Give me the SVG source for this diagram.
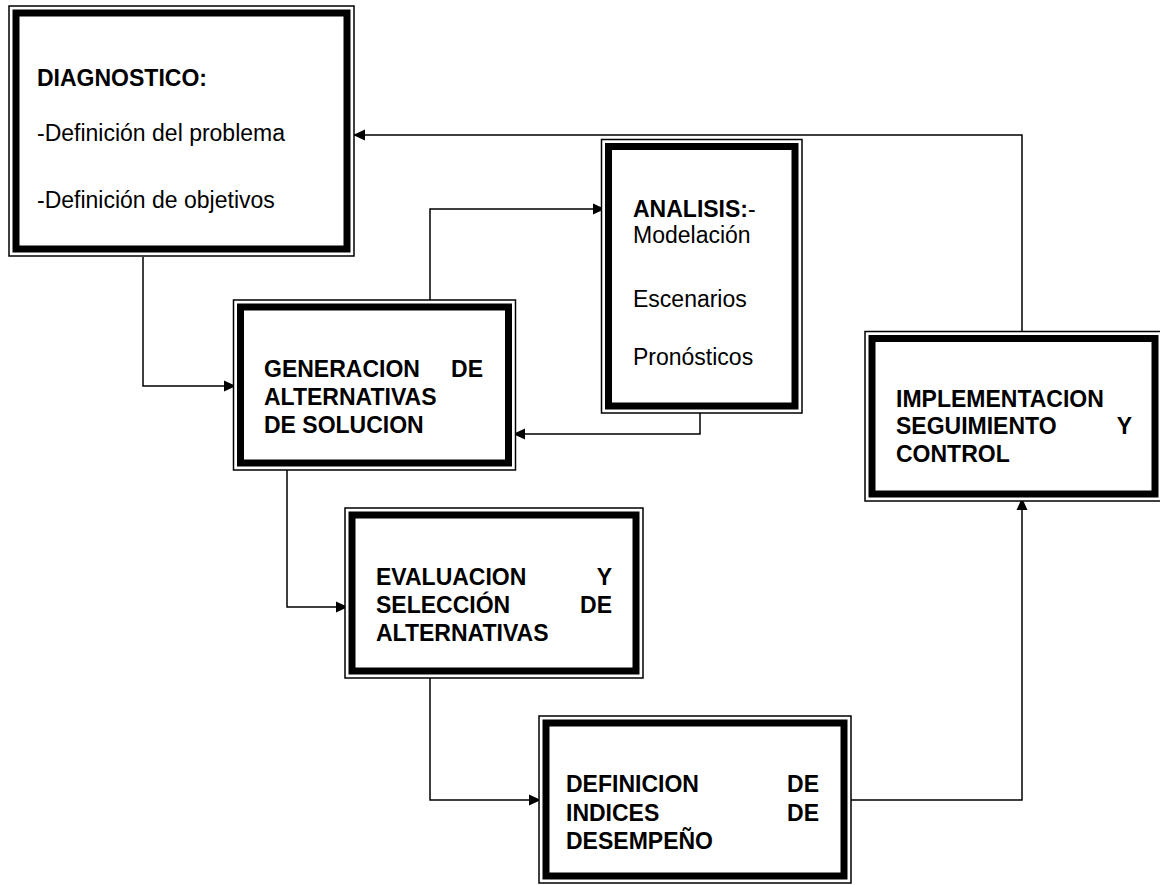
<svg xmlns="http://www.w3.org/2000/svg" width="1160" height="885" viewBox="0 0 1160 885">
<defs>
<style>
.outer{fill:#fff;stroke:#000;stroke-width:1.5}
.thick{fill:none;stroke:#000;stroke-width:7}
.t{font-family:"Liberation Sans",Arial,sans-serif;font-size:23px;fill:#000}
.b{font-weight:bold}
.conn{fill:none;stroke:#000;stroke-width:1.5}
</style>
<marker id="arr" markerUnits="userSpaceOnUse" markerWidth="12" markerHeight="12" refX="12" refY="6" orient="auto">
<path d="M0,0.5 L12,6 L0,11.5 z" fill="#000"/>
</marker>
</defs>
<rect width="1160" height="885" fill="#fff"/>
<g id="connectors">
<path class="conn" d="M143,257 V386 H236" marker-end="url(#arr)"/>
<path class="conn" d="M430,300 V209 H605" marker-end="url(#arr)"/>
<path class="conn" d="M700,413 V434 H513" marker-end="url(#arr)"/>
<path class="conn" d="M287,470 V607 H348" marker-end="url(#arr)"/>
<path class="conn" d="M430,678 V800 H541" marker-end="url(#arr)"/>
<path class="conn" d="M851,800 H1022 V498" marker-end="url(#arr)"/>
<path class="conn" d="M1022,331 V135 H353" marker-end="url(#arr)"/>
</g>
<g id="diagnostico">
<rect class="outer" x="9" y="6" width="345" height="250"/>
<rect class="thick" x="16" y="13" width="331" height="236"/>
<text class="t b" x="37" y="86">DIAGNOSTICO:</text>
<text class="t" x="37" y="141">-Definición del problema</text>
<text class="t" x="37" y="208">-Definición de objetivos</text>
</g>
<g id="generacion">
<rect class="outer" x="233.5" y="300" width="282" height="170"/>
<rect class="thick" x="240.5" y="307" width="268" height="156"/>
<text class="t b" x="264" y="377">GENERACION</text>
<text class="t b" x="483" y="377" text-anchor="end">DE</text>
<text class="t b" x="264" y="405">ALTERNATIVAS</text>
<text class="t b" x="264" y="433">DE SOLUCION</text>
</g>
<g id="analisis">
<rect class="outer" x="601.5" y="139.5" width="200.5" height="273.5"/>
<rect class="thick" x="608.5" y="146.5" width="186.5" height="259.5"/>
<text class="t" x="633" y="217"><tspan class="b">ANALISIS:</tspan>-</text>
<text class="t" x="633" y="243">Modelación</text>
<text class="t" x="633" y="307">Escenarios</text>
<text class="t" x="633" y="365">Pronósticos</text>
</g>
<g id="implementacion">
<rect class="outer" x="865" y="331.5" width="297" height="169.5"/>
<rect class="thick" x="872" y="338.5" width="283" height="155.5"/>
<text class="t b" x="896" y="407">IMPLEMENTACION</text>
<text class="t b" x="896" y="434">SEGUIMIENTO</text>
<text class="t b" x="1132" y="434" text-anchor="end">Y</text>
<text class="t b" x="896" y="462">CONTROL</text>
</g>
<g id="evaluacion">
<rect class="outer" x="345" y="508" width="298" height="170"/>
<rect class="thick" x="352" y="515" width="284" height="156"/>
<text class="t b" x="376" y="585">EVALUACION</text>
<text class="t b" x="612" y="585" text-anchor="end">Y</text>
<text class="t b" x="376" y="613">SELECCIÓN</text>
<text class="t b" x="612" y="613" text-anchor="end">DE</text>
<text class="t b" x="376" y="641">ALTERNATIVAS</text>
</g>
<g id="definicion">
<rect class="outer" x="539" y="716" width="312" height="167"/>
<rect class="thick" x="546" y="723" width="298" height="153"/>
<text class="t b" x="566" y="792">DEFINICION</text>
<text class="t b" x="819" y="792" text-anchor="end">DE</text>
<text class="t b" x="566" y="821">INDICES</text>
<text class="t b" x="819" y="821" text-anchor="end">DE</text>
<text class="t b" x="566" y="849">DESEMPEÑO</text>
</g>
</svg>
